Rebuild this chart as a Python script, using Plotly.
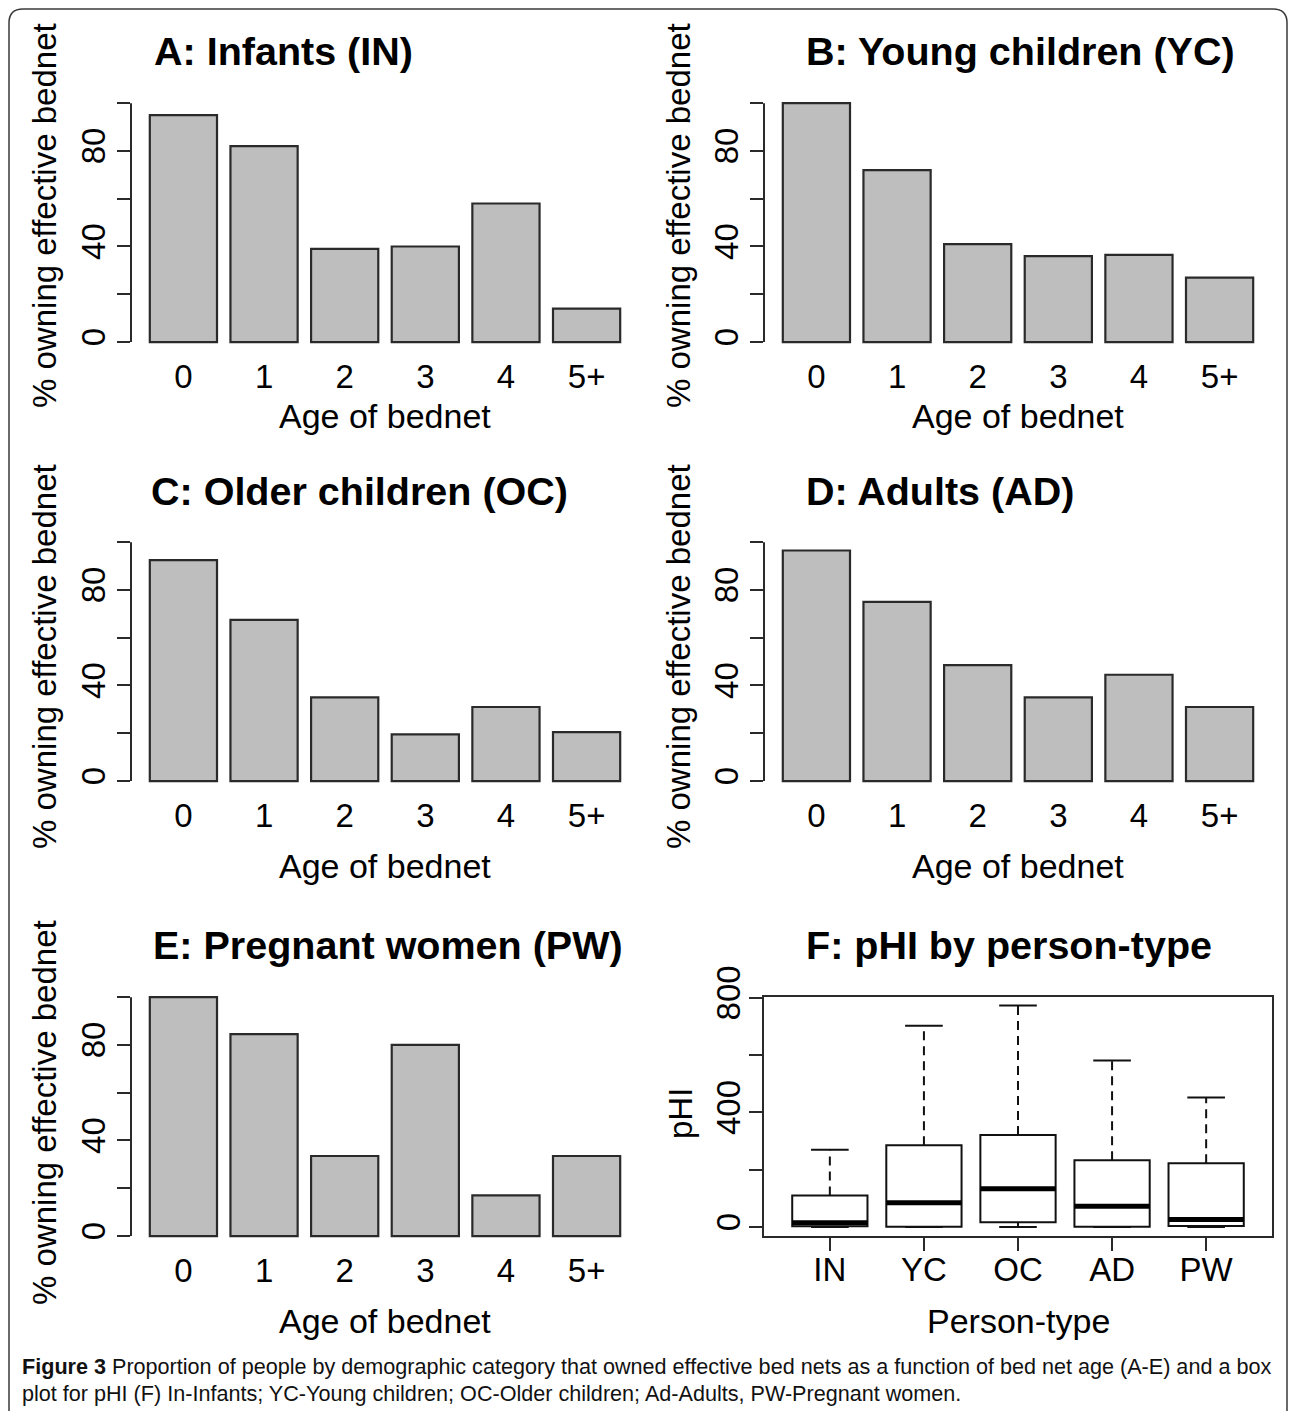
import plotly.graph_objects as go

W, H = 1290, 1411

# ---------------- data ----------------
age_labels = ["0", "1", "2", "3", "4", "5+"]
infants = [95, 82, 39, 40, 58, 14]
young_children = [100, 72, 41, 36, 36.5, 27]
older_children = [92.5, 67.5, 35, 19.5, 31, 20.5]
adults = [96.5, 75, 48.5, 35, 44.5, 31]
pregnant_women = [100, 84.5, 33.5, 80, 17, 33.5]

panel_titles = ["A: Infants (IN)", "B: Young children (YC)", "C: Older children (OC)",
                "D: Adults (AD)", "E: Pregnant women (PW)", "F: pHI by person-type"]

person_types = ["IN", "YC", "OC", "AD", "PW"]
phi_lower = [0, 0, 0, 0, 0]
phi_q1 = [3, 1, 17, 1, 4]
phi_median = [15, 85, 134, 73, 27]
phi_q3 = [110, 286, 321, 233, 223]
phi_upper = [270, 703, 773, 581, 452]

bar_ticks = [0, 20, 40, 60, 80, 100]
bar_ticktext = ["0", "", "40", "", "80", ""]
phi_ticks = [0, 200, 400, 600, 800]
phi_ticktext = ["0", "", "400", "", "800"]

caption_line1 = ("<b>Figure 3</b> Proportion of people by demographic category that owned effective "
                 "bed nets as a function of bed net age (A-E) and a box")
caption_line2 = ("plot for pHI (F) In-Infants; YC-Young children; OC-Older children; "
                 "Ad-Adults, PW-Pregnant women.")

# ---------------- geometry helpers (pixels -> paper) ----------------
def fx(px):
    return px / W


def fy(py):
    return 1 - py / H


FONT = "Liberation Sans, Arial, Helvetica, sans-serif"
AX_COLOR = "#2a2a2a"
TICK_SIZE = 33
XLAB_SIZE = 34
YLAB_SIZE = 33
TITLE_SIZE = 39.5

# panel plot regions in pixels: (x_left, x_right, y_top, y_bottom)
bar_panels = [
    (infants, (131, 639, 93.6, 351.6)),
    (young_children, (764, 1272, 93.6, 351.6)),
    (older_children, (131, 639, 532.6, 790.6)),
    (adults, (764, 1272, 532.6, 790.6)),
    (pregnant_women, (131, 639, 987.6, 1245.6)),
]
box_region = (764, 1272, 996.7, 1236)

fig = go.Figure()
layout = dict(
    width=W, height=H, autosize=False,
    margin=dict(l=0, r=0, t=0, b=0, pad=0),
    paper_bgcolor="white", plot_bgcolor="white",
    showlegend=False,
    font=dict(family=FONT, color="black"),
    shapes=[], annotations=[],
)

for i, (vals, (x0, x1, yt, yb)) in enumerate(bar_panels):
    n = i + 1
    xa = "x" if n == 1 else f"x{n}"
    ya = "y" if n == 1 else f"y{n}"
    fig.add_trace(go.Bar(
        x=age_labels, y=vals, width=1 / 1.2,
        marker=dict(color="#BEBEBE", line=dict(color=AX_COLOR, width=2.2)),
        xaxis=xa, yaxis=ya, hoverinfo="skip",
    ))
    layout["xaxis" if n == 1 else f"xaxis{n}"] = dict(
        domain=[fx(x0), fx(x1)], anchor=ya, type="category",
        range=[-0.65, len(age_labels) - 1 + 0.65], automargin=False,
        showline=False, showgrid=False, zeroline=False, ticks="",
        tickfont=dict(size=TICK_SIZE, family=FONT, color="black"),
        ticklabelstandoff=2, fixedrange=True,
    )
    layout["yaxis" if n == 1 else f"yaxis{n}"] = dict(
        domain=[fy(yb), fy(yt)], anchor=xa, automargin=False,
        range=[-4, 104],
        tickmode="array", tickvals=bar_ticks, ticktext=bar_ticktext,
        tickangle=-90, ticks="outside", ticklen=13, tickwidth=2, tickcolor=AX_COLOR,
        showline=False, showgrid=False, zeroline=False,
        tickfont=dict(size=TICK_SIZE, family=FONT, color="black"),
        ticklabelstandoff=-1, fixedrange=True,
    )
    # R-style axis line spanning only from the first to last tick
    layout["shapes"].append(dict(
        type="line", xref=f"{xa} domain", yref=ya,
        x0=0, x1=0, y0=bar_ticks[0], y1=bar_ticks[-1],
        line=dict(color=AX_COLOR, width=2),
    ))

# ---------------- box plot panel F ----------------
positions = list(range(1, len(person_types) + 1))
fig.add_trace(go.Box(
    x=positions, q1=phi_q1, median=phi_median, q3=phi_q3,
    lowerfence=phi_q1, upperfence=phi_q3,
    width=0.8, whiskerwidth=0, boxpoints=False,
    fillcolor="white", line=dict(color="#111111", width=2),
    xaxis="x6", yaxis="y6", hoverinfo="skip",
))

wx, wy, cx, cy, mx, my = [], [], [], [], [], []
for p, lo, q1, med, q3, up in zip(positions, phi_lower, phi_q1, phi_median, phi_q3, phi_upper):
    wx += [p, p, None, p, p, None]
    wy += [q3, up, None, lo, q1, None]
    cx += [p - 0.2, p + 0.2, None, p - 0.2, p + 0.2, None]
    cy += [up, up, None, lo, lo, None]
    mx += [p - 0.4, p + 0.4, None]
    my += [med, med, None]

fig.add_trace(go.Scatter(x=wx, y=wy, mode="lines", xaxis="x6", yaxis="y6",
                         line=dict(color="#111111", width=2, dash="9px,6px"), hoverinfo="skip"))
fig.add_trace(go.Scatter(x=cx, y=cy, mode="lines", xaxis="x6", yaxis="y6",
                         line=dict(color="#111111", width=2), hoverinfo="skip"))
fig.add_trace(go.Scatter(x=mx, y=my, mode="lines", xaxis="x6", yaxis="y6",
                         line=dict(color="#000000", width=5), hoverinfo="skip"))

bx0, bx1, byt, byb = box_region
layout["xaxis6"] = dict(
    domain=[fx(bx0), fx(bx1)], anchor="y6", automargin=False,
    range=[0.3, len(person_types) + 0.7],
    tickmode="array", tickvals=positions, ticktext=person_types,
    ticks="outside", ticklen=13, tickwidth=2, tickcolor=AX_COLOR,
    showline=True, mirror=True, linecolor=AX_COLOR, linewidth=2,
    showgrid=False, zeroline=False,
    tickfont=dict(size=TICK_SIZE, family=FONT, color="black"),
    ticklabelstandoff=-10, fixedrange=True,
)
layout["yaxis6"] = dict(
    domain=[fy(byb), fy(byt)], anchor="x6", automargin=False,
    range=[-31, 804],
    tickmode="array", tickvals=phi_ticks, ticktext=phi_ticktext,
    tickangle=-90, ticks="outside", ticklen=13, tickwidth=2, tickcolor=AX_COLOR,
    showline=True, mirror=True, linecolor=AX_COLOR, linewidth=2,
    showgrid=False, zeroline=False,
    tickfont=dict(size=TICK_SIZE, family=FONT, color="black"),
    ticklabelstandoff=-4, fixedrange=True,
)

# ---------------- text: titles and axis labels ----------------
title_pos = [(152, 51), (804, 51), (149, 491), (804, 491), (151, 945), (804, 945)]
for t, (px, py) in zip(panel_titles, title_pos):
    layout["annotations"].append(dict(
        text=f"<b>{t}</b>", x=fx(px), y=fy(py), xref="paper", yref="paper",
        xanchor="left", yanchor="middle", showarrow=False,
        font=dict(size=TITLE_SIZE, family=FONT, color="black"),
    ))

xlab_pos = [("Age of bednet", 385, 416), ("Age of bednet", 1018, 416),
            ("Age of bednet", 385, 866), ("Age of bednet", 1018, 866),
            ("Age of bednet", 385, 1321), ("Person-type", 1018, 1321)]
for t, px, py in xlab_pos:
    layout["annotations"].append(dict(
        text=t, x=fx(px), y=fy(py), xref="paper", yref="paper",
        xanchor="center", yanchor="middle", showarrow=False,
        font=dict(size=XLAB_SIZE, family=FONT, color="black"),
    ))

ylab_pos = [("% owning effective bednet", 44, 216), ("% owning effective bednet", 678, 216),
            ("% owning effective bednet", 44, 657), ("% owning effective bednet", 678, 657),
            ("% owning effective bednet", 44, 1113), ("pHI", 680, 1114)]
for t, px, py in ylab_pos:
    layout["annotations"].append(dict(
        text=t, x=fx(px), y=fy(py), xref="paper", yref="paper",
        xanchor="center", yanchor="middle", showarrow=False, textangle=-90,
        font=dict(size=YLAB_SIZE, family=FONT, color="black"),
    ))

# caption
for t, py in [(caption_line1, 1366), (caption_line2, 1393)]:
    layout["annotations"].append(dict(
        text=t, x=fx(20), y=fy(py), xref="paper", yref="paper",
        xanchor="left", yanchor="middle", showarrow=False,
        font=dict(size=21.6, family=FONT, color="#111111"),
    ))

# rounded frame around the figure
L, T, R, B, r = 9, 9, 1287, 1430, 14
path = (f"M {fx(L)},{fy(B)} L {fx(L)},{fy(T + r)} Q {fx(L)},{fy(T)} {fx(L + r)},{fy(T)} "
        f"L {fx(R - r)},{fy(T)} Q {fx(R)},{fy(T)} {fx(R)},{fy(T + r)} L {fx(R)},{fy(B)}")
layout["shapes"].append(dict(type="path", xref="paper", yref="paper", path=path,
                             line=dict(color="#3a3a3a", width=1.5)))

fig.update_layout(**layout)
fig.write_html("out.html", config={"displayModeBar": False},
               post_script="document.body.style.margin='0';")
